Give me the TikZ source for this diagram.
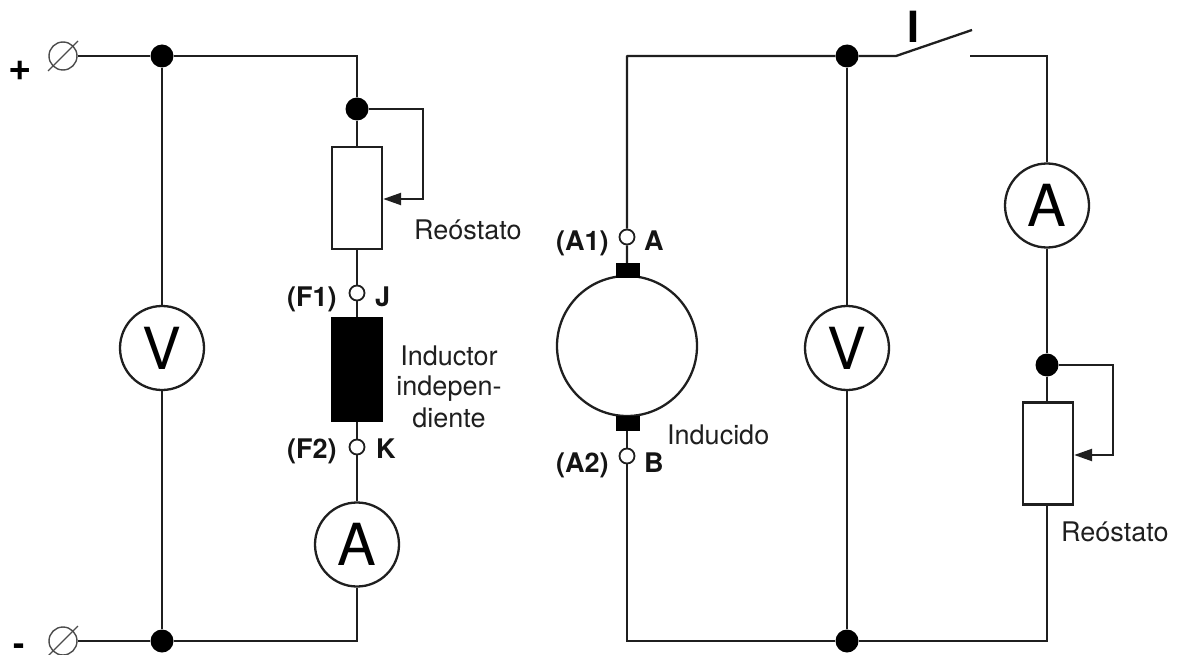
\documentclass[tikz,border=0pt]{standalone}
\usepackage{fontspec}
\setmainfont{TeX Gyre Heros}
\usetikzlibrary{arrows.meta}
\tikzset{
  x=1pt,y=-1pt,
  wire/.style={line width=2.3pt,draw=black!88},
  dotn/.style={circle,fill=black,inner sep=0,minimum size=23pt},
  meter/.style={circle,draw=black!88,line width=2.3pt,fill=white,inner sep=0,minimum size=84pt,font=\fontsize{58}{58}\selectfont},
  term/.style={circle,draw=black!88,line width=1.8pt,fill=white,inner sep=0,minimum size=15pt},
  supply/.style={circle,draw=black!70,line width=1.4pt,fill=white,inner sep=0,minimum size=28pt},
  res/.style={rectangle,draw=black!88,line width=2.3pt,fill=white,inner sep=0,minimum width=50pt,minimum height=102pt},
  brush/.style={rectangle,fill=black,inner sep=0,minimum width=24pt,minimum height=15pt},
  lab/.style={inner sep=0,anchor=base west,text=black!88,font=\fontsize{27}{30}\selectfont},
  blab/.style={inner sep=0,anchor=base west,text=black!92,font=\fontsize{27}{30}\selectfont\bfseries},
  tip/.style={-{Triangle[length=18pt,width=12pt]}}
}
\begin{document}
\begin{tikzpicture}
\useasboundingbox (0,0) rectangle (1177,655);
% left circuit nodes
\node[supply] (sp) at (63,56) {};
\node[supply] (sm) at (63,641) {};
\node[dotn] (d1) at (162,56) {};
\node[dotn] (d2) at (162,641) {};
\node[meter] (v1) at (162,348) {V};
\node[dotn] (d3) at (357,109) {};
\node[res] (r1) at (357,198) {};
\node[term] (tj) at (357,293) {};
\node[rectangle,fill=black,inner sep=0,minimum width=52pt,minimum height=105pt] (ind) at (357,369.5) {};
\node[term] (tk) at (357,447) {};
\node[meter] (a1) at (357,544.5) {A};
\coordinate (c1) at (357,56);
\coordinate (c2) at (357,641);
\coordinate (l1a) at (423,109);
\coordinate (l1b) at (423,199);
% right circuit nodes
\coordinate (c3) at (627,56);
\coordinate (c4) at (627,641);
\node[term] (ta) at (627,237) {};
\node[term] (tb) at (627,456) {};
\node[circle,draw=black!88,line width=2.3pt,inner sep=0,minimum size=140pt] (mot) at (627,346) {};
\node[brush] (b1) at (628,270.5) {};
\node[brush] (b2) at (628,423.5) {};
\node[dotn] (d4) at (847,56) {};
\node[dotn] (d5) at (847,641) {};
\node[meter] (v2) at (847,348) {V};
\coordinate (s1) at (896,56);
\coordinate (s2) at (972,30);
\coordinate (s3) at (970,56);
\coordinate (c5) at (1047,56);
\node[meter] (a2) at (1047,205.5) {A};
\node[dotn] (d6) at (1047,365) {};
\node[res] (r2) at (1048,453.5) {};
\coordinate (c6) at (1047,641);
\coordinate (l2a) at (1113,365);
\coordinate (l2b) at (1113,455);
% wires
\draw[wire] (sp) -- (d1) -- (c1) -- (d3) -- (r1.north -| d3);
\draw[wire] (sm) -- (d2) -- (c2) -- (a1);
\draw[wire] (d1) -- (v1) -- (d2);
\draw[wire] (r1.south -| tj) -- (tj) -- (ind.north -| tj);
\draw[wire] (ind.south -| tk) -- (tk) -- (a1);
\draw[wire,tip,line join=miter] (d3) -- (l1a) -- (l1b) -- (l1b -| r1.east);
\draw[wire,line join=round] (b1.north -| ta) -- (ta) -- (c3) -- (d4) -- (s1) -- (s2);
\draw[wire] (s3) -- (c5) -- (a2) -- (d6) -- (r2.north -| d6);
\draw[wire,tip] (d6) -- (l2a) -- (l2b) -- (l2b -| r2.east);
\draw[wire] (r2.south -| c6) -- (c6) -- (d5) -- (c4) -- (tb) -- (b2.south -| tb);
\draw[wire] (d4) -- (v2) -- (d5);
% terminal slashes
\draw[line width=1.4pt,draw=black!70] (48,71) -- (78,41);
\draw[line width=1.4pt,draw=black!70] (48,656) -- (78,626);
% labels
\node[inner sep=0,anchor=base,font=\fontsize{40}{40}\selectfont\bfseries] (plus) at (20,81) {+};
\node[inner sep=0,anchor=base,font=\fontsize{34}{34}\selectfont\bfseries] (minus) at (19,655) {-};
\node[inner sep=0,anchor=base,font=\fontsize{43}{43}\selectfont\bfseries] (swl) at (913,43) {I};
\node[lab] (lr1) at (414,239) {Reóstato};
\node[lab] (lr2) at (1061,541) {Reóstato};
\node[lab,anchor=base] (li1) at (449,365) {Inductor};
\node[lab,anchor=base] (li2) at (449,395) {indepen-};
\node[lab,anchor=base] (li3) at (449,427) {diente};
\node[lab] (lin) at (667,444) {Inducido};
\node[blab] (lf1) at (287,306) {(F1)};
\node[blab] (lj) at (375,306) {J};
\node[blab] (lf2) at (287,458) {(F2)};
\node[blab] (lk) at (376,458) {K};
\node[blab] (la1) at (556,250) {(A1)};
\node[blab] (la) at (644,250) {A};
\node[blab] (la2) at (556,472) {(A2)};
\node[blab] (lb) at (644,472) {B};
\end{tikzpicture}
\end{document}
